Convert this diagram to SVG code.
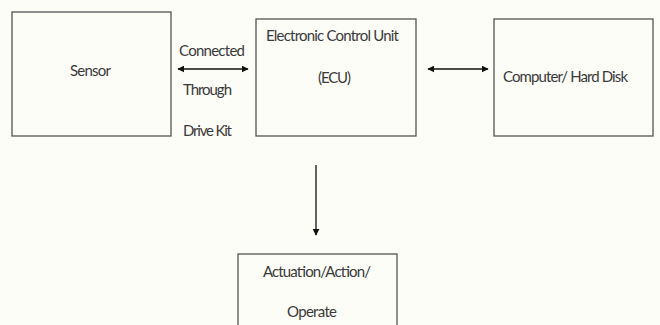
<svg xmlns="http://www.w3.org/2000/svg" width="660" height="325" viewBox="0 0 660 325">
<style>
.box{fill:none;stroke:#555;stroke-width:1.3}
.t{font-family:Lato,"Open Sans","Liberation Sans",sans-serif;font-size:15px;fill:#3a3a3a}
.c{stroke:#111;stroke-width:1.3;fill:none}
</style>
<defs>
<marker id="ah" viewBox="0 0 10 10" refX="9" refY="5" markerWidth="7" markerHeight="7" orient="auto-start-reverse" markerUnits="userSpaceOnUse">
<path d="M0,0 L10,5 L0,10 z" fill="#111"/>
</marker>
</defs>
<rect width="660" height="325" fill="#fdfdf8"/>
<g id="sensor">
<rect class="box" x="12" y="12" width="159" height="124"/>
<text class="t" x="70" y="76" textLength="41">Sensor</text>
</g>
<g id="ecu">
<rect class="box" x="256" y="19" width="160" height="117"/>
<text class="t" x="266" y="41" textLength="133">Electronic Control Unit</text>
<text class="t" x="318" y="83" textLength="33">(ECU)</text>
</g>
<g id="computer">
<rect class="box" x="494" y="19" width="159" height="117"/>
<text class="t" x="503" y="82" textLength="125">Computer/ Hard Disk</text>
</g>
<g id="actuation">
<rect class="box" x="238" y="254" width="159" height="80"/>
<text class="t" x="263" y="277" textLength="108">Actuation/Action/</text>
<text class="t" x="287" y="317" textLength="50">Operate</text>
</g>
<g id="labels">
<text class="t" x="179" y="56" textLength="66">Connected</text>
<text class="t" x="183" y="95" textLength="49">Through</text>
<text class="t" x="183" y="136" textLength="49">Drive Kit</text>
</g>
<g id="connectors">
<line class="c" x1="178" y1="69" x2="248" y2="69" marker-start="url(#ah)" marker-end="url(#ah)"/>
<line class="c" x1="428" y1="69" x2="488" y2="69" marker-start="url(#ah)" marker-end="url(#ah)"/>
<line class="c" x1="316" y1="165" x2="316" y2="235" marker-end="url(#ah)"/>
</g>
</svg>
